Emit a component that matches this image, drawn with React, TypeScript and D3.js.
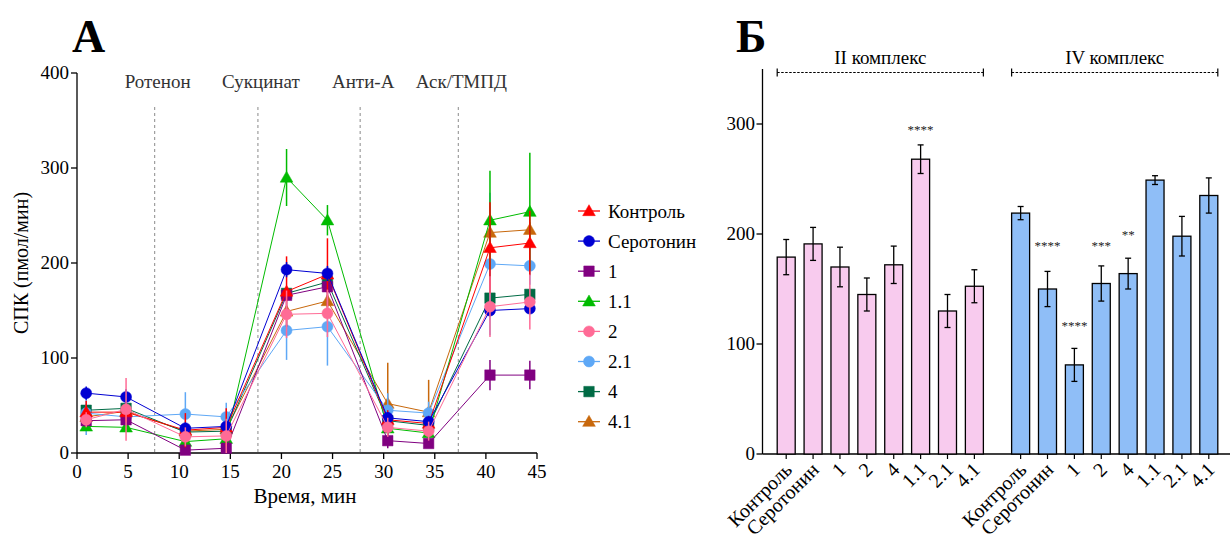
import React from 'react';
import * as d3 from 'd3';

// ---------- Panel A data ----------
const times = [0.9, 4.8, 10.6, 14.6, 20.5, 24.5, 30.4, 34.4, 40.4, 44.3];
const seriesNames = ['Контроль', 'Серотонин', '1', '1.1', '2', '2.1', '4', '4.1'];
const seriesColors = ['#ff0000', '#0000d2', '#800080', '#00bb00', '#ff6b96', '#5ea8f6', '#006b45', '#c8680c'];
const seriesShapes = ['triangle', 'circle', 'square', 'triangle', 'circle', 'circle', 'square', 'triangle'];

const controlVals = [43, 43, 24, 27, 170, 188, 35, 31, 216, 221];
const controlErr = [12, 10, 18, 20, 37, 38, 10, 8, 48, 34];
const serotoninVals = [63, 59, 26, 28, 193, 189, 37, 33, 150, 152];
const serotoninErr = [7, 8, 6, 6, 8, 8, 6, 5, 6, 6];
const c1Vals = [34, 35, 3, 5, 166, 175, 13, 10, 82, 82];
const c1Err = [5, 5, 3, 3, 6, 6, 8, 4, 16, 15];
const c11Vals = [28, 27, 12, 15, 290, 245, 26, 21, 245, 254];
const c11Err = [4, 4, 4, 4, 30, 16, 5, 4, 52, 62];
const c2Vals = [35, 46, 17, 18, 146, 147, 27, 23, 154, 159];
const c2Err = [8, 33, 10, 18, 25, 25, 10, 10, 32, 29];
const c21Vals = [42, 38, 41, 38, 129, 133, 45, 42, 199, 197];
const c21Err = [23, 10, 23, 15, 31, 41, 18, 12, 75, 20];
const c4Vals = [45, 47, 22, 23, 168, 180, 34, 29, 163, 167];
const c4Err = [6, 6, 4, 4, 6, 6, 5, 5, 6, 6];
const c41Vals = [38, 44, 23, 25, 149, 160, 52, 43, 232, 235];
const c41Err = [6, 6, 4, 4, 6, 6, 43, 34, 8, 8];

const seriesValues = [controlVals, serotoninVals, c1Vals, c11Vals, c2Vals, c21Vals, c4Vals, c41Vals];
const seriesErrors = [controlErr, serotoninErr, c1Err, c11Err, c2Err, c21Err, c4Err, c41Err];
const drawOrder = [7, 6, 5, 3, 2, 0, 1, 4];

const treatments = ['Ротенон', 'Сукцинат', 'Анти-А', 'Аск/ТМПД'];
const treatmentTimes = [7.6, 17.7, 27.7, 37.3];
const xTicksA = [0, 5, 10, 15, 20, 25, 30, 35, 40, 45];
const yTicksA = [0, 100, 200, 300, 400];

// ---------- Panel B data ----------
const barLabels = ['Контроль', 'Серотонин', '1', '2', '4', '1.1', '2.1', '4.1'];
const groupTitles = ['II комплекс', 'IV комплекс'];
const complexIIMeans = [179, 191, 170, 145, 172, 268, 130, 152.5];
const complexIIErr = [16, 15, 18, 15, 17, 13, 15, 15];
const complexIVMeans = [219, 150, 81, 155, 164, 249, 198, 235];
const complexIVErr = [6, 16, 15, 16, 14, 4, 18, 16];
const groupFills = ['#f8cbee', '#8fbef7'];
const sigGroup = [0, 1, 1, 1, 1];
const sigIndex = [5, 1, 2, 3, 4];
const sigText = ['****', '****', '****', '***', '**'];
const sigLevel = [297, 191, 119, 191, 201];
const yTicksB = [0, 100, 200, 300];

const FONT = '"Liberation Serif", "Times New Roman", serif';

function Marker({ shape, x, y, color }: { shape: string; x: number; y: number; color: string }) {
  const type = shape === 'circle' ? d3.symbolCircle : shape === 'square' ? d3.symbolSquare : d3.symbolTriangle;
  const size = shape === 'circle' ? 95 : shape === 'square' ? 110 : 70;
  const path = d3.symbol().type(type).size(size)() as string;
  return <path d={path} transform={`translate(${x},${y + (shape === 'triangle' ? 1 : 0)})`} fill={color} stroke={color} strokeWidth={0.5} />;
}

export default function App() {
  // Panel A scales
  const xA = d3.scaleLinear().domain([0, 45]).range([77, 537]);
  const yA = d3.scaleLinear().domain([0, 400]).range([453, 73]);
  const line = d3.line<number>().x((_, i) => xA(times[i])).y((v) => yA(v));

  // Panel B scales
  const groupGap = 0.72;
  const xB = d3.scaleLinear().domain([0, 15 + groupGap]).range([786.2, 1208.8]);
  const yB = d3.scaleLinear().domain([0, 350]).range([454, 69]);
  const barW = 18;
  const posB = (g: number, i: number) => xB(g * (8 + groupGap) + i);
  const groups = [
    { means: complexIIMeans, errs: complexIIErr },
    { means: complexIVMeans, errs: complexIVErr },
  ];

  return (
    <svg width={1230} height={538} style={{ position: 'absolute', left: 0, top: 0, background: '#fff' }} fontFamily={FONT}>
      {/* ================= Panel A ================= */}
      <text x={72} y={52} fontSize={46} fontWeight="bold">А</text>

      {treatments.map((t, i) => (
        <g key={t}>
          <line x1={xA(treatmentTimes[i])} x2={xA(treatmentTimes[i])} y1={107} y2={453} stroke="#8a8a8a" strokeWidth={1} strokeDasharray="3,3" />
          <text x={xA(treatmentTimes[i]) + 3} y={88} fontSize={19} fill="#333" textAnchor="middle">{t}</text>
        </g>
      ))}

      {/* axes */}
      <line x1={77} x2={77} y1={yA(400)} y2={yA(0)} stroke="#000" strokeWidth={1.3} />
      <line x1={77} x2={537} y1={453} y2={453} stroke="#000" strokeWidth={1.3} />
      {yTicksA.map((t) => (
        <g key={t}>
          <line x1={71} x2={77} y1={yA(t)} y2={yA(t)} stroke="#000" strokeWidth={1.3} />
          <text x={69} y={yA(t) + 6} fontSize={19} textAnchor="end">{t}</text>
        </g>
      ))}
      {xTicksA.map((t) => (
        <g key={t}>
          <line x1={xA(t)} x2={xA(t)} y1={453} y2={459} stroke="#000" strokeWidth={1.3} />
          <text x={xA(t)} y={478} fontSize={19} textAnchor="middle">{t}</text>
        </g>
      ))}
      <text x={305} y={503} fontSize={21} textAnchor="middle">Время, мин</text>
      <text transform="translate(28,263) rotate(-90)" fontSize={20} textAnchor="middle">СПК (пмол/мин)</text>

      {/* series */}
      {drawOrder.map((s) => (
        <g key={seriesNames[s]}>
          <path d={line(seriesValues[s]) as string} fill="none" stroke={seriesColors[s]} strokeWidth={1} />
          {seriesValues[s].map((v, i) => (
            <line key={i} x1={xA(times[i])} x2={xA(times[i])} y1={yA(v + seriesErrors[s][i])} y2={yA(Math.max(0, v - seriesErrors[s][i]))} stroke={seriesColors[s]} strokeWidth={1.5} />
          ))}
          {seriesValues[s].map((v, i) => (
            <Marker key={'m' + i} shape={seriesShapes[s]} x={xA(times[i])} y={yA(v)} color={seriesColors[s]} />
          ))}
        </g>
      ))}

      {/* legend */}
      {seriesNames.map((n, i) => {
        const y = 211 + i * 30.1;
        return (
          <g key={n}>
            <line x1={578} x2={600} y1={y} y2={y} stroke={seriesColors[i]} strokeWidth={1.3} />
            <Marker shape={seriesShapes[i]} x={589} y={y} color={seriesColors[i]} />
            <text x={608} y={y + 6.5} fontSize={19}>{n}</text>
          </g>
        );
      })}

      {/* ================= Panel B ================= */}
      <text x={736} y={52} fontSize={46} fontWeight="bold">Б</text>

      {groupTitles.map((gt, g) => {
        const x1 = posB(g, 0) - barW / 2;
        const x2 = posB(g, 7) + barW / 2;
        return (
          <g key={gt}>
            <line x1={x1} x2={x2} y1={72.5} y2={72.5} stroke="#000" strokeWidth={1} strokeDasharray="2.5,1.5" />
            <line x1={x1} x2={x1} y1={68.5} y2={76.5} stroke="#000" strokeWidth={1.2} />
            <line x1={x2} x2={x2} y1={68.5} y2={76.5} stroke="#000" strokeWidth={1.2} />
            <text x={(x1 + x2) / 2} y={64} fontSize={19} textAnchor="middle">{gt}</text>
          </g>
        );
      })}

      <line x1={762.5} x2={762.5} y1={yB(350)} y2={yB(0)} stroke="#000" strokeWidth={1.3} />
      <line x1={762.5} x2={1230} y1={yB(0)} y2={yB(0)} stroke="#000" strokeWidth={1.3} />
      {yTicksB.map((t) => (
        <g key={t}>
          <line x1={756.5} x2={762.5} y1={yB(t)} y2={yB(t)} stroke="#000" strokeWidth={1.3} />
          <text x={755} y={yB(t) + 6} fontSize={19} textAnchor="end">{t}</text>
        </g>
      ))}

      {groups.map((grp, g) =>
        grp.means.map((m, i) => {
          const cx = posB(g, i);
          const e = grp.errs[i];
          return (
            <g key={g + '-' + i}>
              <rect x={cx - barW / 2} y={yB(m)} width={barW} height={yB(0) - yB(m)} fill={groupFills[g]} stroke="#000" strokeWidth={1.3} />
              <line x1={cx} x2={cx} y1={yB(m + e)} y2={yB(m - e)} stroke="#000" strokeWidth={1.3} />
              <line x1={cx - 3} x2={cx + 3} y1={yB(m + e)} y2={yB(m + e)} stroke="#000" strokeWidth={1.3} />
              <line x1={cx - 3} x2={cx + 3} y1={yB(m - e)} y2={yB(m - e)} stroke="#000" strokeWidth={1.3} />
              <line x1={cx} x2={cx} y1={yB(0)} y2={yB(0) + 5} stroke="#000" strokeWidth={1.2} />
              <text transform={`translate(${cx + 7},${yB(0) + 17}) rotate(-45)`} fontSize={20} textAnchor="end">{barLabels[i]}</text>
            </g>
          );
        })
      )}

      {sigText.map((s, k) => (
        <text key={k} x={posB(sigGroup[k], sigIndex[k])} y={yB(sigLevel[k]) + 6.5} fontSize={13} fill="#222" textAnchor="middle">{s}</text>
      ))}
    </svg>
  );
}
